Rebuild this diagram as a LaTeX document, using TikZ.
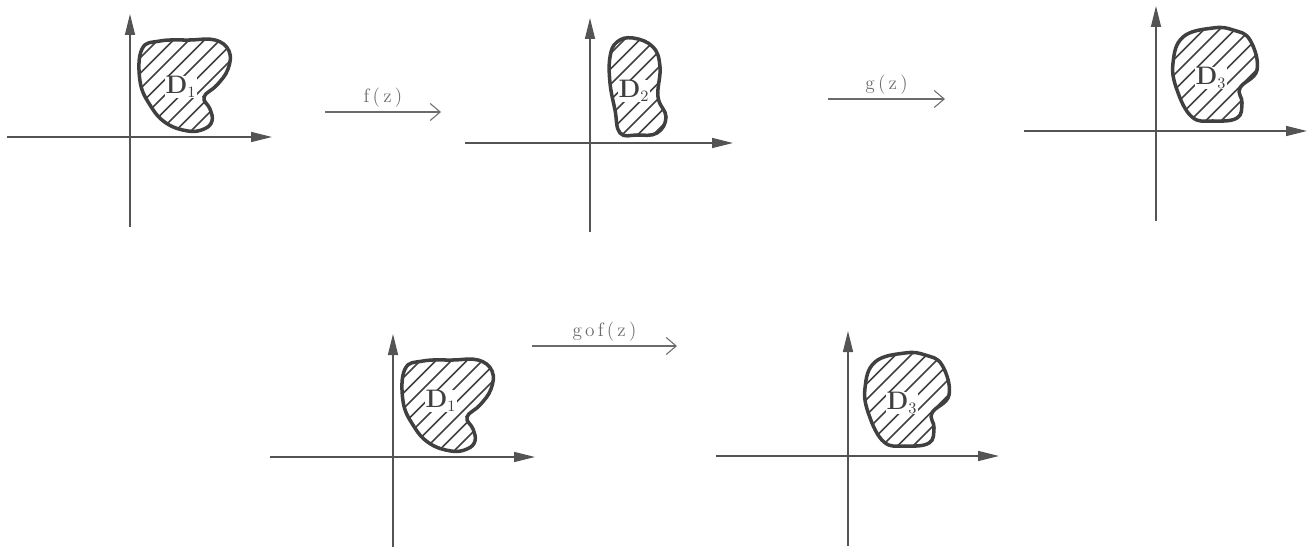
\documentclass[tikz,border=0pt]{standalone}
\usepackage{xcolor}
\usepackage{tikz}
\usetikzlibrary{arrows.meta}
\definecolor{axisgray}{rgb}{0.33,0.33,0.33}
\definecolor{inkgray}{rgb}{0.25,0.25,0.25}
\definecolor{labelgray}{rgb}{0.42,0.42,0.42}

\begin{document}
\begin{tikzpicture}[
    x=0.02cm, y=0.02cm,
    axis/.style={draw=axisgray, line width=0.9pt, -{Triangle[length=0.42cm, width=0.2cm]}},
    outline/.style={draw=inkgray, line width=2pt},
    hatch/.style={draw=inkgray, line width=0.9pt},
    maparrow/.style={draw=labelgray, line width=0.6pt, -{Straight Barb[length=0.2cm, width=0.34cm]}},
    maplabel/.style={font=\fontsize{11}{13}\selectfont, text=labelgray, inner sep=2.5pt},
    dlabel/.style={font=\fontsize{13.5}{16}\selectfont, text=inkgray, fill=white, inner sep=0.5pt}
]
    \useasboundingbox (0,0) rectangle (1310,552);

    % Plane with D1 (top left and bottom left)
    \foreach \ox/\oy/\lx/\ly/\n in {130/415/51/50/a, 393/95/48/56/b} {
        \begin{scope}[shift={(\ox,\oy)}]
            \draw[axis] (-123,0) -- (142,0);
            \draw[axis] (0,-90) -- (0,123);
            \path[save path=\regionpath] plot[smooth cycle, tension=0.7] coordinates {
                (12,88) (30,96) (60,97) (85,97) (99,86) (98,68) (87,52) (74,40)
                (80,28) (82,16) (74,8) (58,6) (36,14) (20,32) (10,56)};
            \begin{scope}
                \clip[use path=\regionpath];
                \foreach \c in {-100,-84.5,...,100} \draw[hatch] (\c,0) -- ++(120,120);
            \end{scope}
            \draw[outline, use path=\regionpath];
            \node[dlabel] (d1\n) at (\lx,\ly) {$\mathbf{D}_1$};
        \end{scope}
    }

    % Plane with D2
    \begin{scope}[shift={(590,409)}]
        \draw[axis] (-125,0) -- (143,0);
        \draw[axis] (0,-89) -- (0,125);
        \path[save path=\regionpath] plot[smooth cycle, tension=0.7] coordinates {
            (27,101) (43,105) (63,96) (70,76) (68,46) (76,26) (67,10)
            (47,8) (30,10) (25,33) (20,60) (20,86)};
        \begin{scope}
            \clip[use path=\regionpath];
            \foreach \c in {-100,-84.5,...,100} \draw[hatch] (\c,0) -- ++(120,120);
        \end{scope}
        \draw[outline, use path=\regionpath];
        \node[dlabel] (d2) at (44,52) {$\mathbf{D}_2$};
    \end{scope}

    % Plane with D3 (top right and bottom right)
    \foreach \ox/\oy/\lx/\ly/\n in {1156/421/55/53/a, 848/96/54/53/b} {
        \begin{scope}[shift={(\ox,\oy)}]
            \draw[axis] (-132,0) -- (151,0);
            \draw[axis] (0,-90) -- (0,125);
            \path[save path=\regionpath] plot[smooth cycle, tension=0.7] coordinates {
                (57,103) (77,101) (94,91) (101,61) (84,43) (86,28) (81,13)
                (57,10) (36,14) (21,41) (17,68) (27,94)};
            \begin{scope}
                \clip[use path=\regionpath];
                \foreach \c in {-100,-84.5,...,100} \draw[hatch] (\c,0) -- ++(120,120);
            \end{scope}
            \draw[outline, use path=\regionpath];
            \node[dlabel] (d3\n) at (\lx,\ly) {$\mathbf{D}_3$};
        \end{scope}
    }

    % Mappings
    \coordinate (f_from) at (325,440);
    \coordinate (f_to) at (441,440);
    \coordinate (g_from) at (828,453);
    \coordinate (g_to) at (945,453);
    \coordinate (gf_from) at (532,206);
    \coordinate (gf_to) at (677,206);

    \draw[maparrow] (f_from) -- node[maplabel, above] (f_lbl) {f\,(\,z\,)} (f_to);
    \draw[maparrow] (g_from) -- node[maplabel, above] (g_lbl) {g\,(\,z\,)} (g_to);
    \draw[maparrow] (gf_from) -- node[maplabel, above] (gf_lbl) {g\,o\,f\,(\,z\,)} (gf_to);

\end{tikzpicture}
\end{document}
